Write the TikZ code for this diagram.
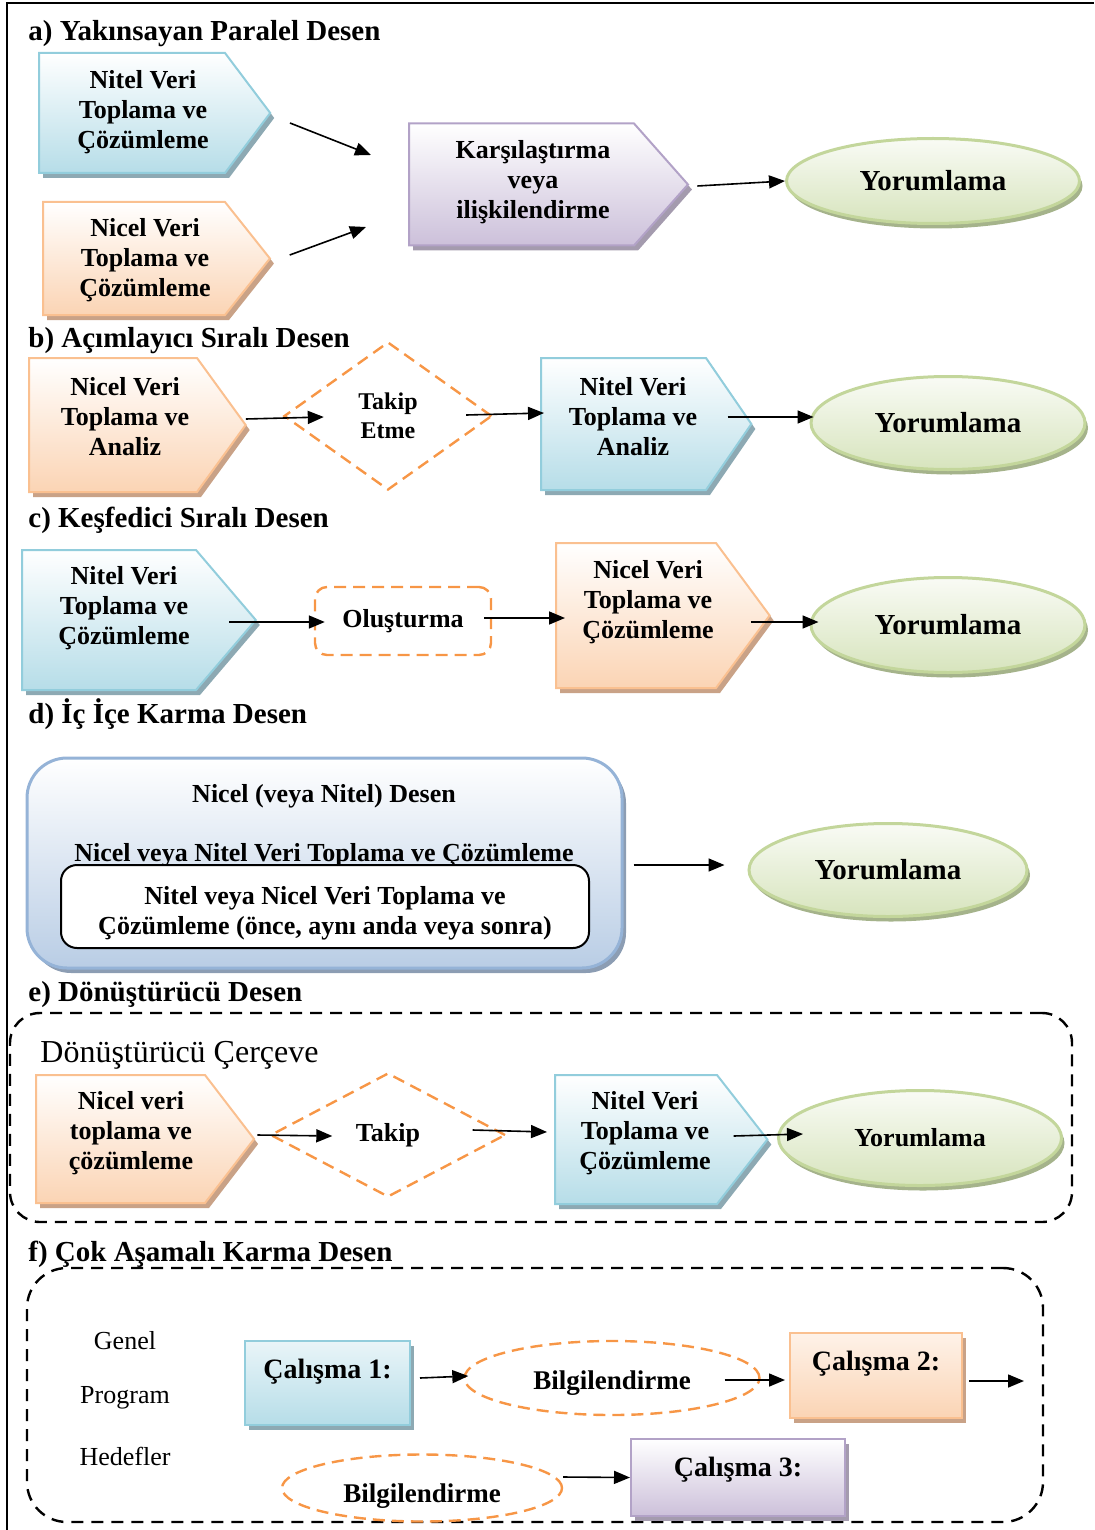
\documentclass[tikz,border=0pt]{standalone}
\usepackage{fontspec}
\setmainfont{Liberation Serif}
\usepackage{xcolor}
\usepackage{tikz}
\usetikzlibrary{shapes.geometric, shapes.symbols, arrows.meta, positioning, shadows}

\definecolor{aquaLine}{HTML}{92CDDC}
\definecolor{aquaFill}{HTML}{B6DDE8}
\definecolor{aquaShade}{HTML}{8DA9B3}
\definecolor{peachLine}{HTML}{FAC090}
\definecolor{peachFill}{HTML}{FBD4B4}
\definecolor{peachShade}{HTML}{C9A287}
\definecolor{lilacLine}{HTML}{B2A2C7}
\definecolor{lilacFill}{HTML}{CCC0DA}
\definecolor{lilacShade}{HTML}{A49BAE}
\definecolor{oliveLine}{HTML}{C3D69B}
\definecolor{oliveFill}{HTML}{D7E4BD}
\definecolor{oliveShade}{HTML}{A5B38B}
\definecolor{skyLine}{HTML}{95B3D7}
\definecolor{skyFill}{HTML}{B9CDE5}
\definecolor{skyShade}{HTML}{8C9DB3}
\definecolor{dashOrange}{HTML}{F79646}

\begin{document}
\begin{tikzpicture}[
        x=0.5pt, y=-0.5pt,
        heading/.style={anchor=base west, inner sep=0pt, font=\fontsize{14.5}{17}\selectfont\bfseries},
        plain/.style={inner sep=0pt, font=\fontsize{13}{15}\selectfont\bfseries},
        goal/.style={inner sep=0pt, font=\fontsize{13}{15}\selectfont},
        chevtext/.style={inner sep=0pt, align=center, font=\fontsize{13}{15}\selectfont\bfseries},
        chevron/.style={signal, signal to=east, line width=1pt, inner xsep=0pt},
        nitel/.style={chevron, draw=aquaLine, top color=white, bottom color=aquaFill, drop shadow={shadow xshift=2pt, shadow yshift=-2.5pt, fill=aquaShade, opacity=1}},
        nicel/.style={chevron, draw=peachLine, top color=white, bottom color=peachFill, drop shadow={shadow xshift=2pt, shadow yshift=-2.5pt, fill=peachShade, opacity=1}},
        karsi/.style={chevron, draw=lilacLine, top color=white, bottom color=lilacFill, drop shadow={shadow xshift=2pt, shadow yshift=-2.5pt, fill=lilacShade, opacity=1}},
        yorum/.style={ellipse, draw=oliveLine, line width=1.5pt, top color=oliveFill!15, bottom color=oliveFill, inner sep=0pt, font=\fontsize{14.5}{17}\selectfont\bfseries, drop shadow={shadow xshift=1.5pt, shadow yshift=-2.5pt, fill=oliveShade, opacity=1}},
        follow/.style={draw=dashOrange, line width=1.2pt, dash pattern=on 6pt off 3.5pt, inner sep=0pt, align=center, font=\fontsize{13}{15}\selectfont\bfseries},
        dashframe/.style={rectangle, draw, line width=1.2pt, dash pattern=on 6pt off 4pt},
        study/.style={rectangle, line width=1pt, font=\fontsize{14}{16}\selectfont\bfseries, text height=9pt},
        arrow/.style={-{Triangle[length=8pt, width=6.5pt]}, line width=0.8pt}
    ]
    \useasboundingbox (0,0) rectangle (1094,1530);
    \draw [line width=1.2pt] (7,1530) -- (7,3) -- (1094,3);

    % a) Convergent
    \node (headA) [heading] at (28,41) {a) Yakınsayan Paralel Desen};
    \node (nitelA) [nitel, text width=93pt, minimum height=60pt, signal pointer angle=106, label={[chevtext, shift={(11,-1)}]center:{Nitel Veri\\Toplama ve\\Çözümleme}}] at (132,113) {};
    \node (nicelA) [nicel, text width=91pt, minimum height=56.5pt, signal pointer angle=103, label={[chevtext, shift={(11,1.5)}]center:{Nicel Veri\\Toplama ve\\Çözümleme}}] at (134,258.5) {};
    \node (karsA) [karsi, text width=112.5pt, minimum height=61pt, signal pointer angle=97, label={[chevtext, shift={(11.5,-2.5)}]center:{Karşılaştırma\\veya\\ilişkilendirme}}] at (521.5,184.5) {};
    \node (yorA) [yorum, minimum width=146.5pt, minimum height=42.5pt] at (933,181) {Yorumlama};

    \draw [arrow] ([shift={(18.5,10)}]nitelA.east) -- ([shift={(-37,-29.5)}]karsA.west);
    \draw [arrow] ([shift={(18.5,-3.5)}]nicelA.east) -- ([shift={(-42,42.5)}]karsA.west);
    \draw [arrow] ([shift={(8,1.5)}]karsA.east) -- (yorA.west);

    % b) Explanatory
    \node (headB) [heading] at (28,347) {b) Açımlayıcı Sıralı Desen};
    \node (nicelB) [nicel, text width=84pt, minimum height=67pt, signal pointer angle=108, label={[chevtext, shift={(12,-8)}]center:{Nicel Veri\\Toplama ve\\Analiz}}] at (113,425) {};
    \node (takipB) [diamond, follow, minimum width=104pt, minimum height=74pt, font=\fontsize{12}{14.5}\selectfont\bfseries] at (388,416) {Takip\\Etme};
    \node (nitelB) [nitel, text width=82.5pt, minimum height=66pt, signal pointer angle=111, label={[chevtext, shift={(9.5,-7)}]center:{Nitel Veri\\Toplama ve\\Analiz}}] at (623.5,424) {};
    \node (yorB) [yorum, minimum width=137pt, minimum height=46.5pt] at (948,423) {Yorumlama};

    \draw [arrow] ([shift={(-1,-6)}]nicelB.east) -- ([shift={(41,1)}]takipB.west);
    \draw [arrow] ([shift={(-27,-1)}]takipB.east) -- ([shift={(4,-11)}]nitelB.west);
    \draw [arrow] ([shift={(-25,-7)}]nitelB.east) -- ([shift={(4,-6)}]yorB.west);

    % c) Exploratory
    \node (headC) [heading] at (28,527) {c) Keşfedici Sıralı Desen};
    \node (nitelC) [nitel, text width=87pt, minimum height=70pt, signal pointer angle=99, label={[chevtext, shift={(15,-12)}]center:{Nitel Veri\\Toplama ve\\Çözümleme}}] at (109,620) {};
    \node (olusC) [follow, rounded corners=6pt, minimum width=88pt, minimum height=34pt] at (403,621) {Oluşturma};
    \node (nicelC) [nicel, text width=80pt, minimum height=72.5pt, signal pointer angle=107, label={[chevtext, shift={(12,-13.5)}]center:{Nicel Veri\\Toplama ve\\Çözümleme}}] at (636,615.5) {};
    \node (yorC) [yorum, minimum width=137pt, minimum height=47.5pt] at (948,625) {Yorumlama};

    \draw [arrow] ([shift={(-28,2)}]nitelC.east) -- ([shift={(11,1)}]olusC.west);
    \draw [arrow] ([shift={(-8,-3)}]olusC.east) -- ([shift={(10,2.5)}]nicelC.west);
    \draw [arrow] ([shift={(-20,6.5)}]nicelC.east) -- ([shift={(9,-3)}]yorC.west);

    % d) Embedded
    \node (headD) [heading] at (28,723) {d) İç İçe Karma Desen};
    \node (desenD) [rectangle, rounded corners=20pt, draw=skyLine, line width=1.5pt, top color=white, bottom color=skyFill, minimum width=297.5pt, minimum height=105pt, drop shadow={shadow xshift=2pt, shadow yshift=-2.5pt, fill=skyShade, opacity=1}] at (324.5,863) {};
    \node (baslikD) [plain] at (324,796) {Nicel (veya Nitel) Desen};
    \node (toplamaD) [plain, anchor=base] at (324,861) {Nicel veya Nitel Veri Toplama ve Çözümleme};
    \node (icD) [rectangle, rounded corners=8pt, draw, line width=1pt, fill=white, minimum width=264pt, minimum height=41.5pt, text height=31pt, align=center, font=\fontsize{13}{15}\selectfont\bfseries] at (325,906.5) {Nitel veya Nicel Veri Toplama ve\\Çözümleme (önce, aynı anda veya sonra)};
    \node (yorD) [yorum, minimum width=139pt, minimum height=46.5pt] at (888,870) {Yorumlama};

    \draw [arrow] ([shift={(10,2)}]desenD.east) -- ([shift={(-23,-5)}]yorD.west);

    % e) Transformative
    \node (headE) [heading] at (28,1001) {e) Dönüştürücü Desen};
    \node (cerceveE) [dashframe, rounded corners=15pt, minimum width=531pt, minimum height=104.5pt] at (541,1117.5) {};
    \node (adE) [goal, anchor=west, font=\fontsize{16}{18}\selectfont] at (40,1055) {Dönüştürücü Çerçeve};
    \node (nicelE) [nicel, text width=84.5pt, minimum height=64pt, signal pointer angle=105, label={[chevtext, shift={(10.5,-6)}]center:{Nicel veri\\toplama ve\\çözümleme}}] at (120.5,1139) {};
    \node (takipE) [diamond, follow, minimum width=117.5pt, minimum height=62pt] at (388,1135) {Takip};
    \node (nitelE) [nitel, text width=81pt, minimum height=64.5pt, signal pointer angle=104, label={[chevtext, shift={(9,-6.5)}]center:{Nitel Veri\\Toplama ve\\Çözümleme}}] at (636,1139.5) {};
    \node (yorE) [yorum, minimum width=141.5pt, minimum height=47.5pt, font=\fontsize{13}{15}\selectfont\bfseries] at (920,1138) {Yorumlama};

    \draw [arrow] ([shift={(2,-4)}]nicelE.east) -- ([shift={(63,1)}]takipE.west);
    \draw [arrow] ([shift={(-34,-5)}]takipE.east) -- ([shift={(-7,-7.5)}]nitelE.west);
    \draw [arrow] ([shift={(-35,-3.5)}]nitelE.east) -- ([shift={(26,-4)}]yorE.west);

    % f) Multiphase
    \node (headF) [heading] at (28,1261) {f) Çok Aşamalı Karma Desen};
    \node (cerceveF) [dashframe, rounded corners=20pt, minimum width=508pt, minimum height=127pt] at (535,1395) {};
    \node (genel) [goal] at (125,1341) {Genel};
    \node (program) [goal] at (125,1398) {Program};
    \node (hedef) [goal] at (125,1456) {Hedefler};
    \node (cal1) [study, draw=aquaLine, top color=aquaFill!30, bottom color=aquaFill, minimum width=82.5pt, minimum height=42pt, text depth=14pt, drop shadow={shadow xshift=2pt, shadow yshift=-2.5pt, fill=aquaShade, opacity=1}] at (327.5,1383) {Çalışma 1:};
    \node (bilgi1) [ellipse, follow, minimum width=147.5pt, minimum height=37pt, text height=14.5pt, text depth=3pt, font=\fontsize{13.5}{16}\selectfont\bfseries] at (612,1378) {Bilgilendirme};
    \node (cal2) [study, draw=peachLine, top color=peachFill!30, bottom color=peachFill, minimum width=86pt, minimum height=42.5pt, text depth=14.5pt, drop shadow={shadow xshift=2pt, shadow yshift=-2.5pt, fill=peachShade, opacity=1}] at (876,1375.5) {Çalışma 2:};
    \coordinate (sonraki) at (1024,1381);
    \node (cal3) [study, draw=lilacLine, top color=white, bottom color=lilacFill, minimum width=107pt, minimum height=38.5pt, text depth=10.5pt, drop shadow={shadow xshift=2pt, shadow yshift=-2.5pt, fill=lilacShade, opacity=1}] at (738,1477.5) {Çalışma 3:};
    \node (bilgi2) [ellipse, follow, minimum width=140pt, minimum height=33.5pt, text height=17.5pt, text depth=3pt, font=\fontsize{13.5}{16}\selectfont\bfseries] at (422,1488) {Bilgilendirme};

    \draw [arrow] ([shift={(9,-5)}]cal1.east) -- ([shift={(5,-2)}]bilgi1.west);
    \draw [arrow] ([shift={(-36,2)}]bilgi1.east) -- ([shift={(-4,4.5)}]cal2.west);
    \draw [arrow] ([shift={(6,5.5)}]cal2.east) -- (sonraki);
    \draw [arrow] ([shift={(0,-11)}]bilgi2.east) -- (cal3.west);

\end{tikzpicture}
\end{document}
